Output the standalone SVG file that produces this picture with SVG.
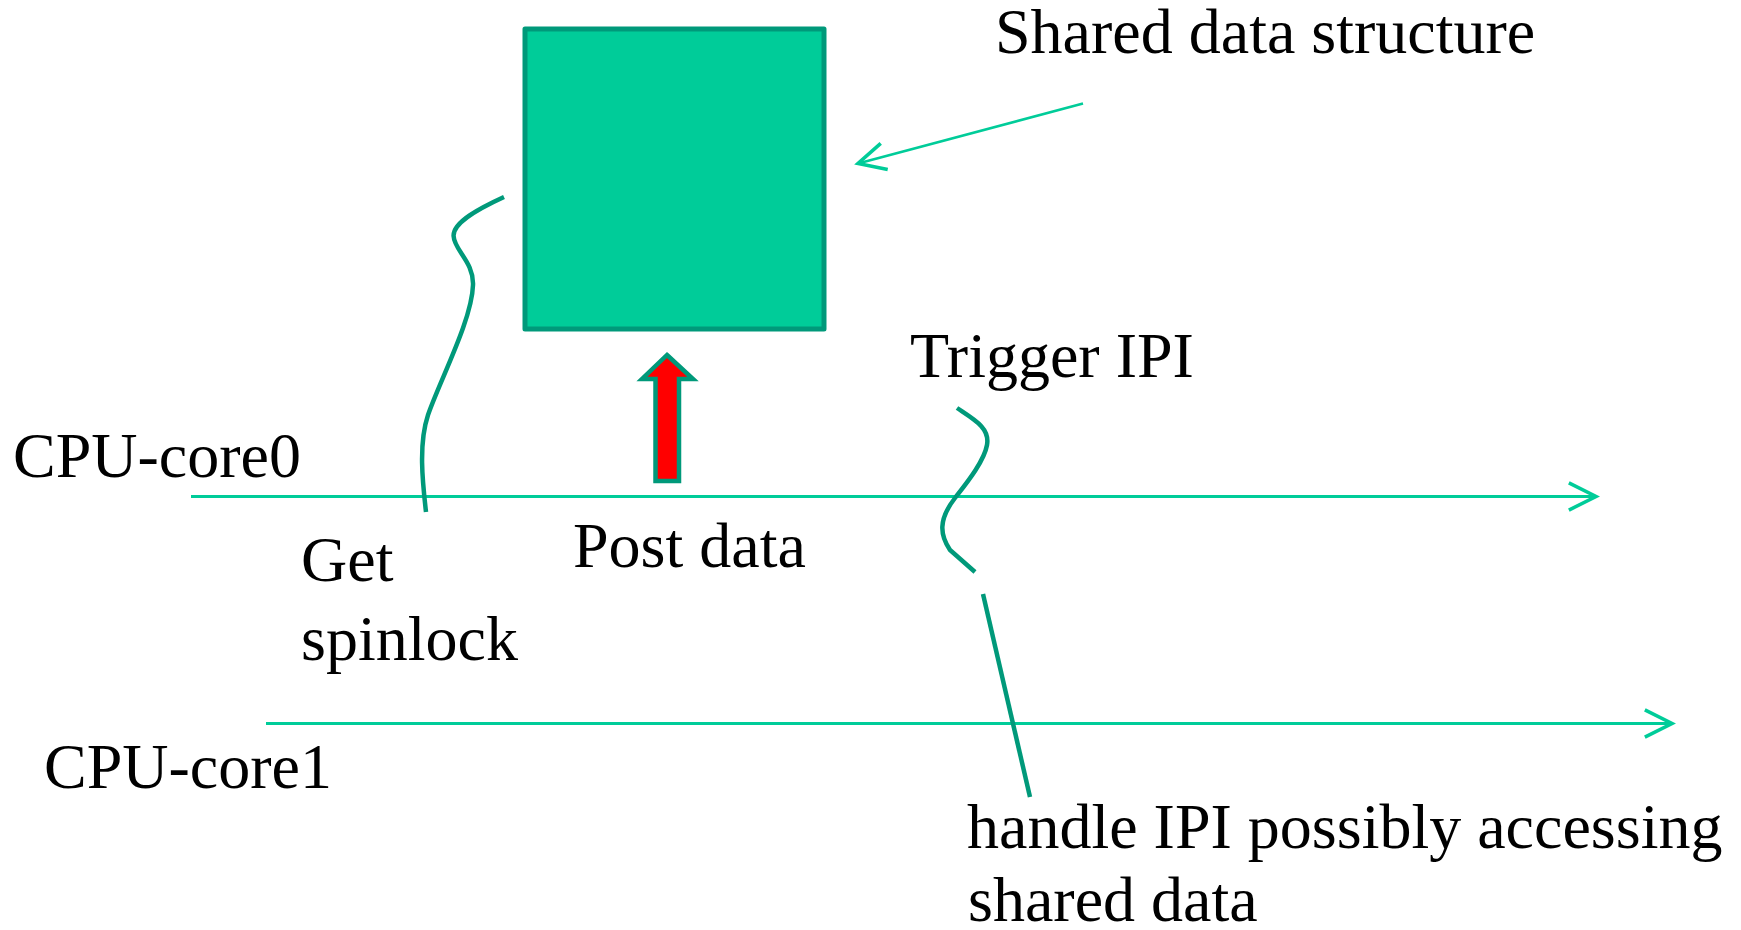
<svg xmlns="http://www.w3.org/2000/svg" width="1741" height="930" viewBox="0 0 1741 930">
<style>
text{font-family:"Liberation Serif","Times New Roman",serif;font-size:64px;fill:#000}
.lane{stroke:#00CC99;stroke-width:3;fill:none}
.thin{stroke:#00CC99;stroke-width:2.5;fill:none}
.curve{stroke:#00997A;stroke-width:4.5;fill:none;stroke-linecap:butt}
</style>
<defs>
<marker id="open" markerUnits="userSpaceOnUse" markerWidth="40" markerHeight="40" viewBox="-22 -14 26 28" refX="0" refY="0" orient="auto">
<path d="M-19,-9.5 L0,0 L-19,9.5" fill="none" stroke="#00CC99" stroke-width="2.5"/>
</marker>
</defs>
<rect width="1741" height="930" fill="#fff"/>
<g id="shared-data">
<rect x="525" y="29" width="299" height="300" fill="#00CC99" stroke="#00997A" stroke-width="5" stroke-linejoin="round"/>
</g>
<g id="post-data-arrow">
<polygon points="667,355 693,379 679,379 679,481 655.5,481 655.5,379 642,379" fill="#FF0000" stroke="#00997A" stroke-width="4.5"/>
</g>
<g id="connectors">
<line class="lane" x1="191" y1="496.5" x2="1596" y2="496.5" marker-end="url(#open)"/>
<line class="lane" x1="266" y1="723.5" x2="1672" y2="723.5" marker-end="url(#open)"/>
<line class="thin" x1="1083" y1="103.5" x2="858" y2="163.5" marker-end="url(#open)"/>
<path class="curve" d="M504,197 C480,208 453,222 453.6,236 C454,250 474,262 473,285 C472,320 440,380 428,415 C418,445 423,485 426,512"/>
<path class="curve" d="M957,408 C975,420 990,428 987,445 C984,462 965,485 955,498 C938,520 940,535 950,550 L975,572"/>
<line class="curve" x1="983" y1="594" x2="1030" y2="797"/>
</g>
<g id="labels">
<text x="995" y="53">Shared data structure</text>
<text x="910" y="377">Trigger IPI</text>
<text x="13" y="477">CPU-core0</text>
<text x="44" y="788">CPU-core1</text>
<text x="301" y="581">Get</text>
<text x="301" y="660">spinlock</text>
<text x="573" y="567">Post data</text>
<text x="967" y="848">handle IPI possibly accessing</text>
<text x="968" y="921">shared data</text>
</g>
</svg>
